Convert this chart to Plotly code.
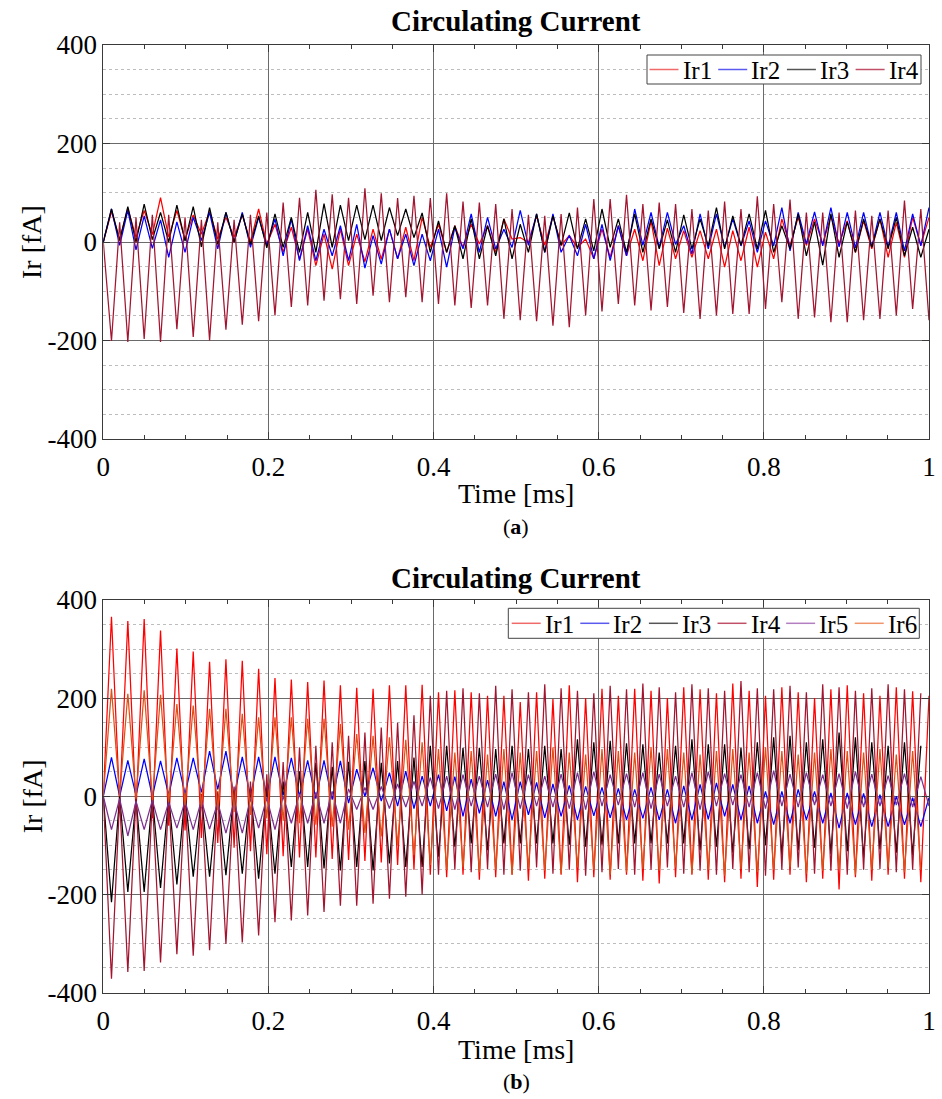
import plotly.graph_objects as go

# ---------------- data (vertex values, fA) ----------------
# Each waveform is stored as the values at even samples (0, 2, 4, ...) and at odd samples
# (1, 3, 5, ...); samples are spaced DT_MS apart.
DT_MS = 1 / 101

# (a) four-cell case
A_IR1_EVEN = [0, 5, 10, 15, 10, 5, 16, 6, 10, 0, -5, -20, -35, -48, -55, -48, -40, -35, -34, -38, -11, -21,
              -11, -4, -21, 6, -1, -7, -7, -11, -34, -31, -28, -38, -48, -34, -31, -34, -51, -38, -51, -34,
              -7, -7, -4, -4, -21, -14, -31, -31, -7]
A_IR1_ODD = [62, 68, 64, 90, 64, 55, 62, 50, 55, 67, 36, 30, 26, 16, 26, 16, 26, 26, 30, 50, 36, 33, 36, 33,
             47, 9, 53, 53, 13, 6, 26, 33, 26, 43, 28, 23, 23, 26, 23, 30, 20, 47, 50, 47, 53, 43, 43, 47, 40,
             50, 50]
A_IR2_EVEN = [0, -7, -16, -13, -31, -21, 3, -14, 0, -11, -7, -28, -38, -38, -28, -38, -53, -45, -34, -48, -38,
              -51, -14, -21, -14, -11, -7, -21, -21, -28, -34, -38, -28, -7, -11, -5, -24, -14, -11, -8, -21,
              -8, -18, -4, -8, -10, -12, -10, -10, -18, -8]
A_IR2_ODD = [67, 64, 53, 45, 41, 50, 60, 60, 60, 50, 47, 47, 33, 26, 33, 36, 13, 26, 16, 16, 26, 30, 57, 50,
             26, 64, 57, 57, 13, 36, 36, 33, 67, 60, 60, 33, 57, 57, 47, 43, 43, 70, 60, 61, 70, 60, 60, 60,
             60, 57, 70]
A_IR3_EVEN = [0, 3, 0, 5, 0, 2, -10, -5, 0, -5, -12, -11, -21, -21, -11, 3, 5, 3, 13, 9, -21, -21, -34, -34,
              -28, -34, -21, -21, -7, -14, -18, -11, -21, -21, -14, -21, -14, -8, -14, -7, -14, -21, -14, -28,
              -47, -31, -21, -11, -14, -28, -31]
A_IR3_ODD = [67, 72, 77, 60, 75, 72, 70, 60, 57, 53, 57, 50, 60, 78, 75, 75, 75, 70, 67, 59, 43, 33, 47, 33,
             47, 36, 57, 53, 59, 47, 67, 47, 57, 47, 45, 55, 47, 70, 53, 57, 64, 33, 57, 41, 57, 41, 47, 47,
             50, 30, 26]
A_IR4_EVEN = [0, 40, 50, 55, 55, 50, 45, 40, 45, 55, 60, 80, 90, 106, 97, 90, 109, 99, 89, 94, 89, 99, 82, 80,
              77, 67, 55, 53, 57, 70, 87, 87, 96, 77, 80, 77, 67, 64, 82, 67, 93, 77, 86, 60, 60, 60, 64, 53,
              64, 84, 67]
A_IR4_ODD = [-201, -203, -197, -203, -177, -193, -200, -178, -168, -161, -149, -132, -129, -119, -116, -126,
             -109, -122, -112, -122, -126, -129, -134, -129, -156, -159, -161, -170, -173, -149, -141, -126,
             -129, -139, -132, -144, -156, -149, -146, -146, -136, -122, -156, -153, -163, -163, -159, -156,
             -149, -136, -159]

# (b) six-cell case
B_IR1_EVEN = [0, -15, -30, -45, -60, -70, -85, -95, -105, -112, -118, -122, -125, -125, -128, -130, -132, -135,
              -140, -150, -160, -165, -160, -170, -165, -160, -172, -168, -160, -175, -165, -170, -160, -172,
              -178, -165, -160, -170, -175, -168, -185, -170, -160, -175, -168, -190, -165, -172, -160, -168,
              -175]
B_IR1_ODD = [366, 357, 361, 338, 301, 295, 274, 279, 276, 260, 241, 238, 233, 236, 226, 221, 219, 226, 226,
             227, 212, 216, 212, 205, 205, 192, 212, 198, 226, 200, 219, 205, 219, 215, 200, 222, 218, 210,
             230, 215, 205, 222, 212, 200, 218, 226, 210, 205, 222, 214, 205]
B_IR2_EVEN = [0, 0, 2, 0, 3, 5, 8, 14, 0, 0, 0, 2, 0, -5, -7, -14, 0, -10, -20, -25, -20, -30, -41, -35, -41,
              -48, -38, -44, -41, -48, -40, -44, -48, -45, -48, -55, -48, -47, -41, -48, -55, -58, -55, -48,
              -55, -65, -58, -62, -62, -58, -62]
B_IR2_ODD = [79, 73, 76, 72, 78, 78, 92, 92, 80, 80, 80, 78, 73, 73, 72, 55, 58, 48, 51, 41, 44, 40, 35, 33,
             30, 30, 28, 25, 22, 20, 18, 16, 14, 18, 14, 21, 24, 27, 24, 21, 10, 10, 14, 10, 7, 7, 6, 3, 0,
             -3, -3]
B_IR3_EVEN = [0, 0, -5, 0, 0, 5, 0, 5, 10, 15, 20, 30, 51, 68, 60, 70, 72, 68, 72, 79, 103, 103, 99, 99, 96,
              103, 96, 103, 96, 116, 110, 113, 108, 106, 89, 103, 116, 106, 106, 99, 110, 120, 123, 110, 116,
              130, 120, 110, 103, 110, 103]
B_IR3_ODD = [-216, -195, -195, -187, -180, -164, -164, -161, -158, -168, -158, -144, -144, -147, -151, -144,
             -151, -137, -144, -144, -123, -103, -96, -110, -96, -96, -96, -96, -99, -103, -99, -96, -96, -96,
             -96, -96, -110, -103, -115, -108, -100, -120, -110, -105, -118, -112, -125, -108, -115, -120]
B_IR4_EVEN = [0, -5, 0, -5, 0, 5, 5, 10, 20, 30, 45, 70, 100, 103, 110, 123, 130, 140, 150, 165, 205, 215,
              220, 210, 225, 218, 212, 228, 220, 215, 210, 225, 218, 230, 222, 212, 228, 220, 215, 235, 220,
              218, 225, 212, 228, 222, 215, 220, 228, 218, 210]
B_IR4_ODD = [-372, -358, -356, -339, -322, -325, -314, -301, -298, -284, -257, -253, -243, -236, -223, -223,
             -219, -209, -205, -200, -160, -150, -155, -148, -160, -152, -145, -158, -150, -162, -155, -148,
             -160, -150, -145, -158, -152, -160, -148, -155, -162, -150, -145, -158, -152, -160, -150, -148,
             -155, -150]
B_IR5_EVEN = [0, -5, -10, -8, -12, -10, -8, -12, -10, -5, -3, 0, 5, 8, 10, 15, 18, 20, 25, 30, 38, 41, 44, 41,
              45, 48, 44, 41, 45, 48, 50, 44, 46, 48, 45, 41, 48, 50, 46, 44, 48, 52, 45, 48, 44, 46, 50, 45,
              42, 46, 40]
B_IR5_ODD = [-68, -81, -68, -68, -65, -68, -67, -75, -75, -65, -68, -55, -55, -55, -55, -27, -27, -25, -22,
             -20, -25, -27, -20, -22, -27, -25, -20, -22, -25, -27, -20, -18, -22, -25, -20, -22, -27, -20,
             -18, -22, -25, -20, -22, -18, -20, -25, -22, -20, -18, -22, -20]
B_IR6_EVEN = [0, 0, -5, -8, -12, -18, -22, -28, -32, -38, -45, -50, -55, -58, -62, -68, -75, -82, -100, -120,
              -140, -150, -145, -155, -150, -160, -148, -152, -158, -145, -150, -160, -155, -148, -152, -145,
              -158, -150, -162, -148, -155, -150, -145, -158, -152, -148, -160, -150, -145, -155, -150]
B_IR6_ODD = [219, 209, 216, 207, 188, 185, 178, 178, 168, 161, 161, 161, 158, 158, 147, 127, 123, 120, 115,
             110, 96, 89, 92, 85, 96, 89, 92, 100, 89, 85, 96, 92, 89, 100, 96, 89, 85, 92, 96, 89, 100, 92,
             85, 89, 96, 92, 89, 96, 85, 92]

NAMES_A = ["Ir1", "Ir2", "Ir3", "Ir4"]
NAMES_B = ["Ir1", "Ir2", "Ir3", "Ir4", "Ir5", "Ir6"]
COLORS = ["#FF0000", "#0000FF", "#000000", "#A2142F", "#7E2F8E", "#D95319"]
LEGEND_COLORS = ["#F06A6A", "#5A5AF0", "#555555", "#C05068", "#B47FC0", "#F0946A"]

X_TICKS = [0, 0.2, 0.4, 0.6, 0.8, 1]
X_TICK_LABELS = ["0", "0.2", "0.4", "0.6", "0.8", "1"]
Y_TICKS = [-400, -200, 0, 200, 400]
Y_TICK_LABELS = ["-400", "-200", "0", "200", "400"]


def series(even, odd):
    y = []
    for k in range(len(even)):
        y.append(even[k])
        if k < len(odd):
            y.append(odd[k])
    return y


SERIF = "Liberation Serif"
# The page's default body margin is removed (post_script below), so the figure fills the window
# and every position here is a window pixel.
W, H = 942, 1099
X0, X1 = 103.3, 929.0
A_TOP, A_BOT = 45.0, 439.0
B_TOP, B_BOT = 600.0, 992.5


def px(x):
    return x / W


def py(y):
    return 1 - y / H


fig = go.Figure()

data_a = [(A_IR1_EVEN, A_IR1_ODD), (A_IR2_EVEN, A_IR2_ODD), (A_IR3_EVEN, A_IR3_ODD), (A_IR4_EVEN, A_IR4_ODD)]
for name, color, (ev, od) in zip(NAMES_A, COLORS, data_a):
    y = series(ev, od)
    t = [i * DT_MS for i in range(len(y))]
    fig.add_trace(go.Scatter(x=t, y=y, mode="lines", name=name, line=dict(color=color, width=1.25),
                             xaxis="x", yaxis="y", showlegend=False, hoverinfo="skip"))

data_b = [(B_IR1_EVEN, B_IR1_ODD), (B_IR2_EVEN, B_IR2_ODD), (B_IR3_EVEN, B_IR3_ODD),
          (B_IR4_EVEN, B_IR4_ODD), (B_IR5_EVEN, B_IR5_ODD), (B_IR6_EVEN, B_IR6_ODD)]
for name, color, (ev, od) in zip(NAMES_B, COLORS, data_b):
    y = series(ev, od)
    t = [i * DT_MS for i in range(len(y))]
    fig.add_trace(go.Scatter(x=t, y=y, mode="lines", name=name, line=dict(color=color, width=1.25),
                             xaxis="x2", yaxis="y2", showlegend=False, hoverinfo="skip"))

AX_COL = "#3a3a3a"
GRID_COL = "#6a6a6a"


def xax(anchor):
    return dict(domain=[px(X0), px(X1)], anchor=anchor, range=[0, 1], tickmode="array", automargin=False,
                tickvals=X_TICKS, ticktext=X_TICK_LABELS, ticks="inside", ticklen=7, tickcolor=AX_COL,
                ticklabelstandoff=4,
                showline=True, linecolor=AX_COL, linewidth=1, mirror="ticks",
                showgrid=True, gridcolor=GRID_COL, gridwidth=1, zeroline=False,
                minor=dict(dtick=0.05, tick0=0, ticks="inside", ticklen=4, tickcolor=AX_COL, showgrid=False),
                tickfont=dict(family=SERIF, size=27, color="black"))


def yax(top, bot, anchor):
    return dict(domain=[py(bot), py(top)], anchor=anchor, range=[-400, 400], tickmode="array",
                automargin=False,
                tickvals=Y_TICKS, ticktext=Y_TICK_LABELS, ticks="inside", ticklen=7, tickcolor=AX_COL,
                showline=True, linecolor=AX_COL, linewidth=1, mirror="ticks",
                showgrid=True, gridcolor=GRID_COL, gridwidth=1,
                zeroline=True, zerolinecolor=GRID_COL, zerolinewidth=1,
                minor=dict(dtick=50, tick0=0, ticks="", showgrid=True, griddash="dot",
                           gridcolor="#bdbdbd", gridwidth=1),
                tickfont=dict(family=SERIF, size=27, color="black"))


fig.update_layout(
    template="none",
    width=W, height=H, margin=dict(l=0, r=0, t=0, b=0, pad=0, autoexpand=False),
    paper_bgcolor="white", plot_bgcolor="white",
    showlegend=False, hovermode=False,
    font=dict(family=SERIF, color="black"),
    xaxis=xax("y"), yaxis=yax(A_TOP, A_BOT, "x"),
    xaxis2=xax("y2"), yaxis2=yax(B_TOP, B_BOT, "x2"),
)

cx = px((X0 + X1) / 2)
ann = [
    dict(text="<b>Circulating Current</b>", x=cx, y=py(21), size=29),
    dict(text="<b>Circulating Current</b>", x=cx, y=py(578), size=29),
    dict(text="Time [ms]", x=cx, y=py(493), size=28),
    dict(text="Time [ms]", x=cx, y=py(1049), size=28),
    dict(text="(<b>a</b>)", x=cx, y=py(526), size=22),
    dict(text="(<b>b</b>)", x=cx, y=py(1081), size=22),
]
for a in ann:
    fig.add_annotation(text=a["text"], x=a["x"], y=a["y"], xref="paper", yref="paper",
                       xanchor="center", yanchor="middle", showarrow=False,
                       font=dict(family=SERIF, size=a["size"], color="black"))
for ymid in [(A_TOP + A_BOT) / 2, (B_TOP + B_BOT) / 2]:
    fig.add_annotation(text="Ir [fA]", x=px(32), y=py(ymid), xref="paper", yref="paper",
                       xanchor="center", yanchor="middle", textangle=-90, showarrow=False,
                       font=dict(family=SERIF, size=28, color="black"))


# legends drawn as a boxed row of line samples + labels (pixel layout of the reference)
def draw_legend(names, box_l, box_r, box_t, box_b, first_line_x, pitch):
    fig.add_shape(type="rect", xref="paper", yref="paper", x0=px(box_l), x1=px(box_r),
                  y0=py(box_b), y1=py(box_t), line=dict(color="#444444", width=1), fillcolor="white",
                  layer="above")
    ymid = (box_t + box_b) / 2
    for k, name in enumerate(names):
        lx = first_line_x + k * pitch
        fig.add_shape(type="line", xref="paper", yref="paper", x0=px(lx), x1=px(lx + 29),
                      y0=py(ymid), y1=py(ymid), line=dict(color=LEGEND_COLORS[k], width=1.5),
                      layer="above")
        fig.add_annotation(text=name, x=px(lx + 31), y=py(ymid + 1), xref="paper", yref="paper",
                           xanchor="left", yanchor="middle", showarrow=False,
                           font=dict(family=SERIF, size=25, color="black"))


draw_legend(NAMES_A, 647, 921, 55, 84, 649.5, 68.7)
draw_legend(NAMES_B, 508.3, 919.3, 608.3, 638.3, 511.7, 68.6)

fig.write_html("out.html", config={"displayModeBar": False, "staticPlot": True},
               post_script="document.body.style.margin='0';document.body.style.padding='0';")
